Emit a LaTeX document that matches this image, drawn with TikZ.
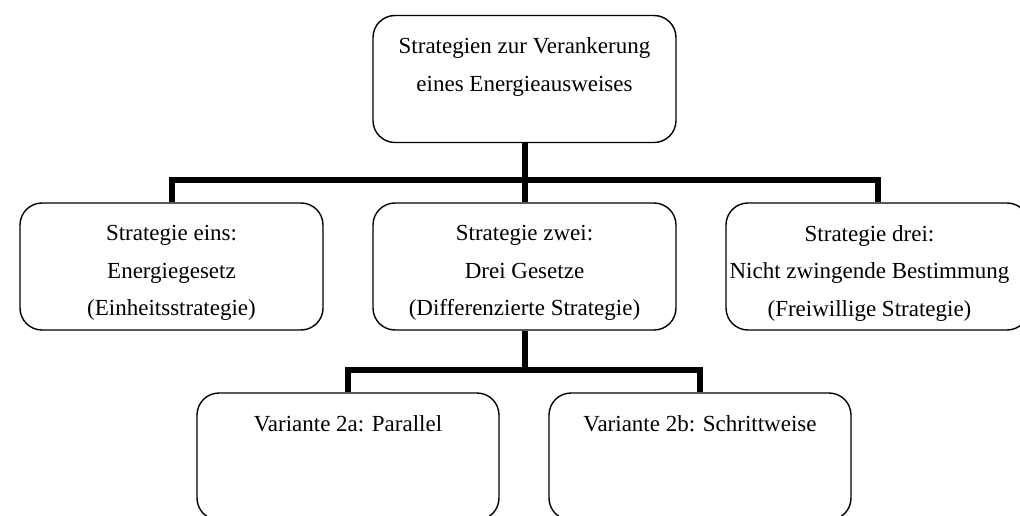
\documentclass[tikz,border=0pt]{standalone}
\usepackage{fontspec}
\setmainfont{Liberation Serif}
\usetikzlibrary{positioning}
\tikzset{
  box/.style={draw, line width=1.4pt, rounded corners=22pt, minimum width=303pt, minimum height=127pt, inner sep=0pt},
  boxtext/.style={align=center, inner sep=0pt, font=\fontsize{23}{37.5}\selectfont},
  link/.style={line width=6pt}
}
\begin{document}
\begin{tikzpicture}[x=1pt, y=-1pt]
\useasboundingbox (0,0) rectangle (1020,516);
\clip (0,0) rectangle (1020,516);
\node[box] (topbox) at (524.5,79){};
\node[boxtext, below=23pt of topbox.north] (toptext){Strategien zur Verankerung\\eines Energieausweises};
\node[box] (eins) at (171.5,266.5){};
\node[boxtext, below=23pt of eins.north] (einstext){Strategie eins:\\Energiegesetz\\(Einheitsstrategie)};
\node[box] (zwei) at (524.5,266.5){};
\node[boxtext, below=23pt of zwei.north] (zweitext){Strategie zwei:\\Drei Gesetze\\(Differenzierte Strategie)};
\node[box] (drei) at (877.5,266.5){};
\node[boxtext, below=23pt of drei.north, xshift=-8pt] (dreitext){Strategie drei:\\Nicht zwingende Bestimmung\\(Freiwillige Strategie)};
\node[box, minimum width=302pt] (var2a) at (348,456.5){};
\node[boxtext, below=23pt of var2a.north] (var2atext){Variante 2a: Parallel};
\node[box, minimum width=302pt] (var2b) at (700,456.5){};
\node[boxtext, below=23pt of var2b.north] (var2btext){Variante 2b: Schrittweise};
\coordinate (split1) at (524.5,180);
\coordinate (split2) at (524.5,370);
\draw[link](topbox) -- (zwei);
\draw[link](eins.north) |- (split1) -| (drei.north);
\draw[link](zwei) -- (split2);
\draw[link](var2a.north) |- (split2) -| (var2b.north);
\end{tikzpicture}
\end{document}
